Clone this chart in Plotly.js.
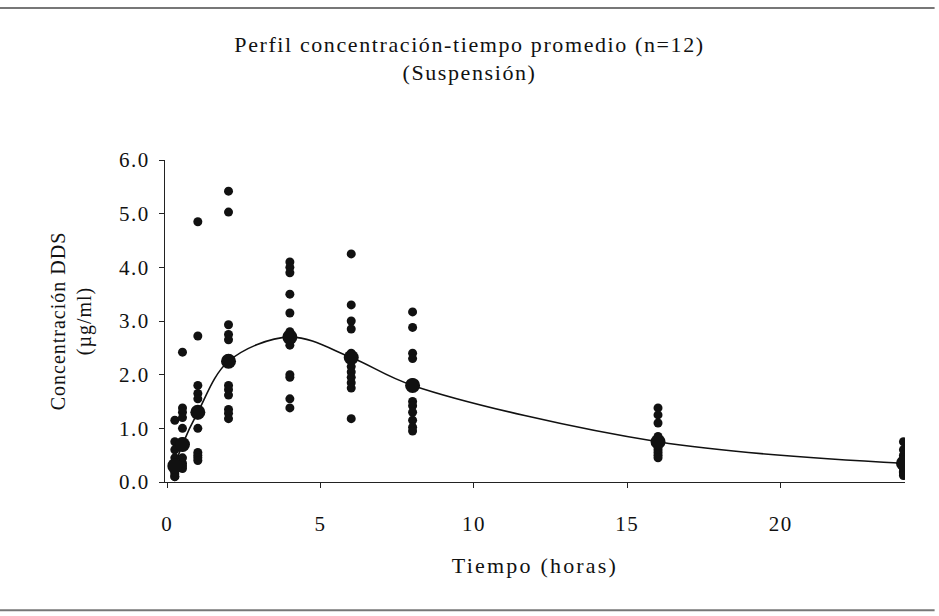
<!DOCTYPE html>
<html>
<head>
<meta charset="utf-8">
<script src="https://cdn.plot.ly/plotly-3.0.1.min.js"></script>
<style>
html,body{margin:0;padding:0;background:#fff;}
#chart{width:939px;height:616px;}
#chart .gtitle{letter-spacing:1.6px;}
#chart .xtitle{letter-spacing:2.2px;}
#chart .ytitle{letter-spacing:1px;}
#chart .xtick text,#chart .ytick text{letter-spacing:1.5px;}
</style>
</head>
<body>
<div id="chart"></div>
<script>
// Sampling times (hours)
const times = [0.25, 0.5, 1, 2, 4, 6, 8, 16, 24];

// Individual concentrations (µg/ml), 12 subjects per time point
const conc_0_25 = [1.15, 0.75, 0.6, 0.45, 0.35, 0.3, 0.25, 0.2, 0.2, 0.15, 0.1, 0.1];
const conc_0_5  = [2.42, 1.38, 1.3, 1.2, 1.0, 0.75, 0.7, 0.65, 0.45, 0.35, 0.3, 0.25];
const conc_1    = [4.85, 2.72, 1.8, 1.65, 1.55, 1.3, 1.25, 1.0, 0.55, 0.5, 0.45, 0.4];
const conc_2    = [5.42, 5.03, 2.93, 2.75, 2.65, 2.3, 1.8, 1.72, 1.62, 1.35, 1.28, 1.18];
const conc_4    = [4.1, 4.0, 3.9, 3.5, 3.15, 2.8, 2.65, 2.55, 2.0, 1.95, 1.55, 1.38];
const conc_6    = [4.25, 3.3, 3.0, 2.85, 2.4, 2.3, 2.15, 2.05, 1.95, 1.85, 1.75, 1.18];
const conc_8    = [3.17, 2.88, 2.4, 2.3, 1.85, 1.8, 1.5, 1.42, 1.3, 1.15, 1.02, 0.95];
const conc_16   = [1.38, 1.25, 1.1, 0.85, 0.8, 0.75, 0.7, 0.65, 0.6, 0.55, 0.5, 0.45];
const conc_24   = [0.75, 0.6, 0.5, 0.45, 0.4, 0.35, 0.3, 0.25, 0.2, 0.18, 0.15, 0.12];

// Mean profile (µg/ml)
const meanConc = [0.3, 0.7, 1.3, 2.25, 2.7, 2.32, 1.8, 0.75, 0.35];

const xTicks = [0, 5, 10, 15, 20];
const yTicks = [0, 1, 2, 3, 4, 5, 6];

const allConc = [conc_0_25, conc_0_5, conc_1, conc_2, conc_4, conc_6, conc_8, conc_16, conc_24];
const indX = [], indY = [];
allConc.forEach((arr, i) => arr.forEach(v => { indX.push(times[i]); indY.push(v); }));

const serif = "'Liberation Serif', 'DejaVu Serif', serif";

const traces = [
  {x: indX, y: indY, type: 'scatter', mode: 'markers',
   marker: {color: '#111', size: 9}, hoverinfo: 'x+y', showlegend: false},
  {x: times, y: meanConc, type: 'scatter', mode: 'lines+markers',
   line: {color: '#111', width: 1.6, shape: 'spline', smoothing: 1},
   marker: {color: '#111', size: 15}, showlegend: false}
];

const layout = {
  width: 939, height: 616,
  paper_bgcolor: '#fff', plot_bgcolor: '#fff',
  margin: {l: 165, r: 34, t: 160, b: 134},
  font: {family: serif, color: '#111', size: 20},
  title: {text: 'Perfil concentración-tiempo promedio (n=12)<br>(Suspensión)',
          x: 0.5, xref: 'container', y: 0.916, yref: 'container', yanchor: 'top',
          font: {family: serif, size: 22, color: '#111'}},
  xaxis: {range: [-0.07, 24.05], tickvals: xTicks, ticktext: xTicks.map(String),
          showgrid: false, zeroline: false, showline: true, linecolor: '#222', linewidth: 1,
          ticks: 'outside', ticklen: 5, tickcolor: '#222', ticklabelstandoff: 18,
          tickfont: {family: serif, size: 21},
          title: {text: 'Tiempo (horas)', standoff: 22, font: {family: serif, size: 22}}},
  yaxis: {range: [0, 6], tickvals: yTicks, tickformat: '.1f',
          showgrid: false, zeroline: false, showline: true, linecolor: '#222', linewidth: 1,
          ticks: 'outside', ticklen: 5, tickcolor: '#222', ticklabelstandoff: 5,
          tickfont: {family: serif, size: 21},
          title: {text: 'Concentración DDS<br>(µg/ml)', standoff: 26, font: {family: serif, size: 20}}},
  shapes: [
    {type: 'line', xref: 'paper', yref: 'paper', x0: -0.223, x1: 1.04, y0: 1.472, y1: 1.472,
     line: {color: '#777', width: 2}},
    {type: 'line', xref: 'paper', yref: 'paper', x0: -0.223, x1: 1.04, y0: -0.398, y1: -0.398,
     line: {color: '#777', width: 2}}
  ]
};

Plotly.newPlot('chart', traces, layout, {displayModeBar: false, staticPlot: true});
</script>
</body>
</html>
